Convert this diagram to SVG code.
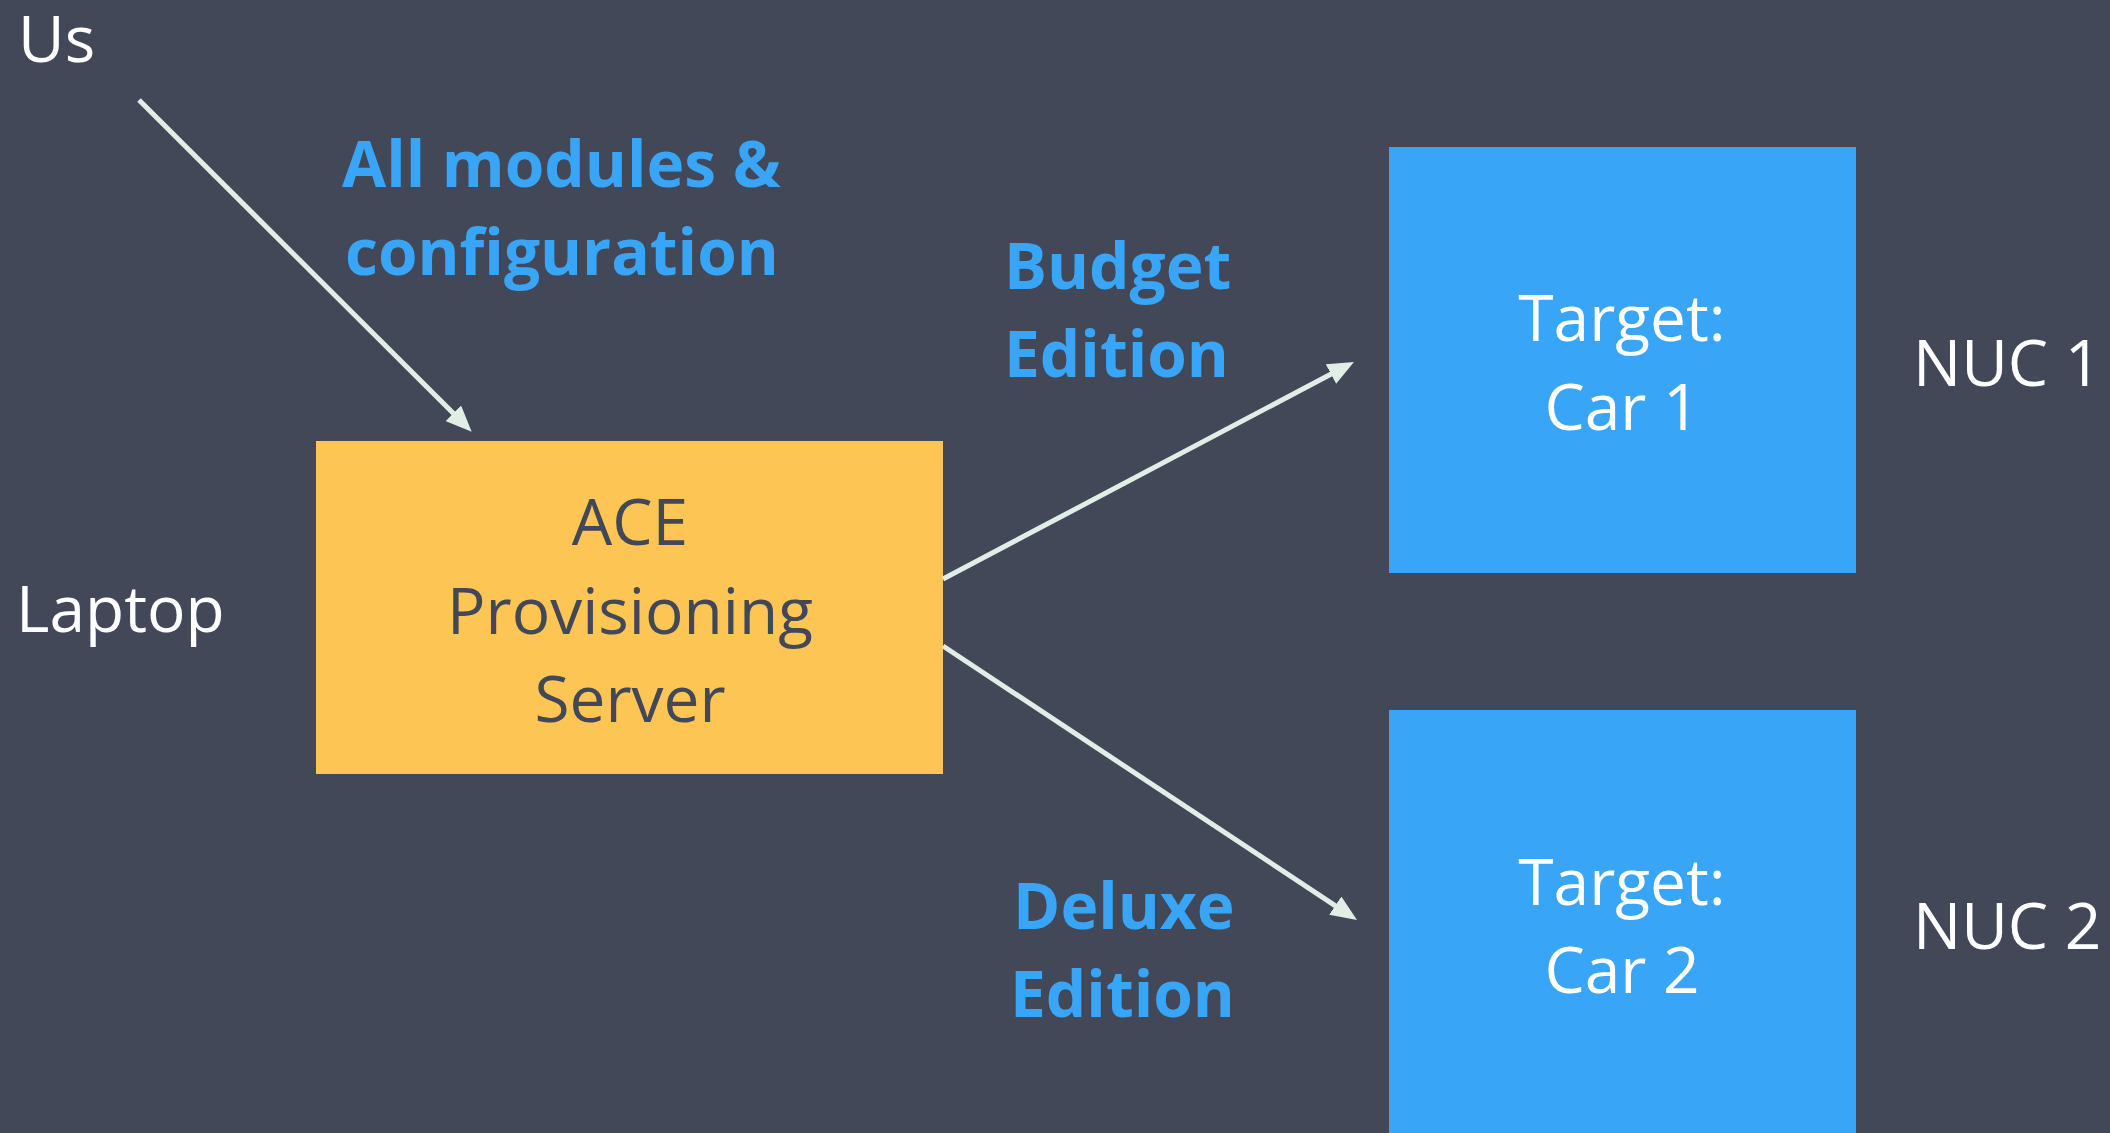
<svg xmlns="http://www.w3.org/2000/svg" width="2110" height="1133" viewBox="0 0 2110 1133">
<style>
.reg{font-family:"Open Sans","Noto Sans","DejaVu Sans",sans-serif;font-size:64px;font-weight:400}
.lbl{font-family:"Open Sans","Noto Sans","DejaVu Sans",sans-serif;font-size:64px;font-weight:700;fill:#38A5F7}
.white{fill:#FFFFFF}
.dark{fill:#424858}
.conn{stroke:#E0EEE6;stroke-width:5;fill:none}
</style>
<defs>
<marker id="arr" viewBox="0 0 26 22" refX="12" refY="11" markerWidth="26" markerHeight="22" markerUnits="userSpaceOnUse" orient="auto">
<path d="M0,0 L26,11 L0,22 Z" fill="#E0EEE6"/>
</marker>
</defs>
<rect x="0" y="0" width="2110" height="1133" fill="#424858"/>
<g id="us"><text class="reg white" x="18" y="62">Us</text></g>
<g id="laptop"><text class="reg white" x="16" y="632">Laptop</text></g>
<g id="server">
<rect x="316" y="441" width="627" height="333" fill="#FDC654"/>
<text class="reg dark" text-anchor="middle" x="630" y="545">ACE</text>
<text class="reg dark" text-anchor="middle" x="630" y="634">Provisioning</text>
<text class="reg dark" text-anchor="middle" x="630" y="722">Server</text>
</g>
<g id="car1">
<rect x="1389" y="147" width="467" height="426" fill="#38A5F7"/>
<text class="reg white" text-anchor="middle" x="1622" y="341">Target:</text>
<text class="reg white" text-anchor="middle" x="1622" y="430">Car 1</text>
</g>
<g id="car2">
<rect x="1389" y="710" width="467" height="423" fill="#38A5F7"/>
<text class="reg white" text-anchor="middle" x="1622" y="905">Target:</text>
<text class="reg white" text-anchor="middle" x="1622" y="993">Car 2</text>
</g>
<g id="nuc1"><text class="reg white" x="1913" y="386">NUC 1</text></g>
<g id="nuc2"><text class="reg white" x="1913" y="949">NUC 2</text></g>
<g id="labels">
<text class="lbl" x="342" y="187">All modules &amp;</text>
<text class="lbl" x="345" y="275">configuration</text>
<text class="lbl" x="1004" y="289">Budget</text>
<text class="lbl" x="1004" y="377">Edition</text>
<text class="lbl" x="1013" y="929">Deluxe</text>
<text class="lbl" x="1010" y="1017">Edition</text>
</g>
<g id="connectors">
<line class="conn" x1="139" y1="100" x2="461.8" y2="421.8" marker-end="url(#arr)"/>
<line class="conn" x1="943" y1="579" x2="1341.6" y2="368.5" marker-end="url(#arr)"/>
<line class="conn" x1="943" y1="646" x2="1345.3" y2="912.3" marker-end="url(#arr)"/>
</g>
</svg>
